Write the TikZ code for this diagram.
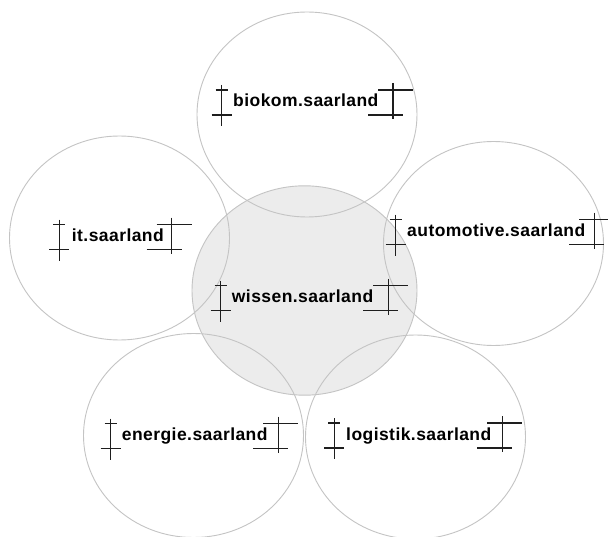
\documentclass[tikz,border=0pt]{standalone}
\usepackage{fontspec}
\newfontfamily\lblfont[LetterSpace=2.5]{Liberation Sans}
\definecolor{ringc}{HTML}{C4C4C4}
\definecolor{hubfill}{HTML}{ECECEC}
\definecolor{markc}{HTML}{1E1E1E}
\tikzset{
  ring/.style={draw=ringc, line width=0.9pt},
  hub/.style={ring, fill=hubfill},
  lbl/.style={anchor=base west, inner sep=0pt, text=black,
    font=\lblfont\bfseries\fontsize{17.5}{20}\selectfont},
  markline/.style={draw=markc, line width=1.2pt}
}
\newcommand{\lmarker}[2]{%
  \draw[markline] (#1,#2-22) -- (#1,#2+19);
  \draw[markline] (#1-6,#2-17) -- (#1+6,#2-17);
  \draw[markline] (#1-10,#2+8) -- (#1+10,#2+8);}
\newcommand{\rmarker}[2]{%
  \draw[markline] (#1,#2-24) -- (#1,#2+12);
  \draw[markline] (#1-15,#2-17) -- (#1+20,#2-17);
  \draw[markline] (#1-25,#2+8) -- (#1+10,#2+8);}
\begin{document}
\begin{tikzpicture}[x=1pt,y=-1pt]
\useasboundingbox[fill=white] (0,0) rectangle (608,537);
% hub
\draw[hub] (304.5,290.5) ellipse [x radius=112.5, y radius=104.7];
% outer rings
\draw[ring] (307,114.5) ellipse [x radius=110, y radius=102.5];
\draw[ring] (119.5,238) ellipse [x radius=110, y radius=102];
\draw[ring] (493.5,243.5) ellipse [x radius=110, y radius=102];
\draw[ring] (193.5,435.5) ellipse [x radius=110, y radius=102];
\draw[ring] (415.5,437) ellipse [x radius=110, y radius=102];
% labels
\node[lbl] (biokom) at (233,107) {biokom.saarland};
\node[lbl] (it) at (71.7,241.7) {it.saarland};
\node[lbl] (auto) at (407,236.7) {automotive.saarland};
\node[lbl] (wissen) at (231.7,302.7) {wissen.saarland};
\node[lbl] (energie) at (121.7,440.7) {energie.saarland};
\node[lbl] (logistik) at (346,440) {logistik.saarland};
% markers
\lmarker{221.7}{107}   \rmarker{393}{107}
\lmarker{59.3}{241.7}  \rmarker{171.7}{241.7}
\lmarker{395.7}{236.7} \rmarker{594.3}{236.7}
\lmarker{220.7}{302.7} \rmarker{388.3}{302.7}
\lmarker{110.7}{440.7} \rmarker{278.3}{440.7}
\lmarker{334.3}{440}   \rmarker{502.3}{440}
\end{tikzpicture}
\end{document}
